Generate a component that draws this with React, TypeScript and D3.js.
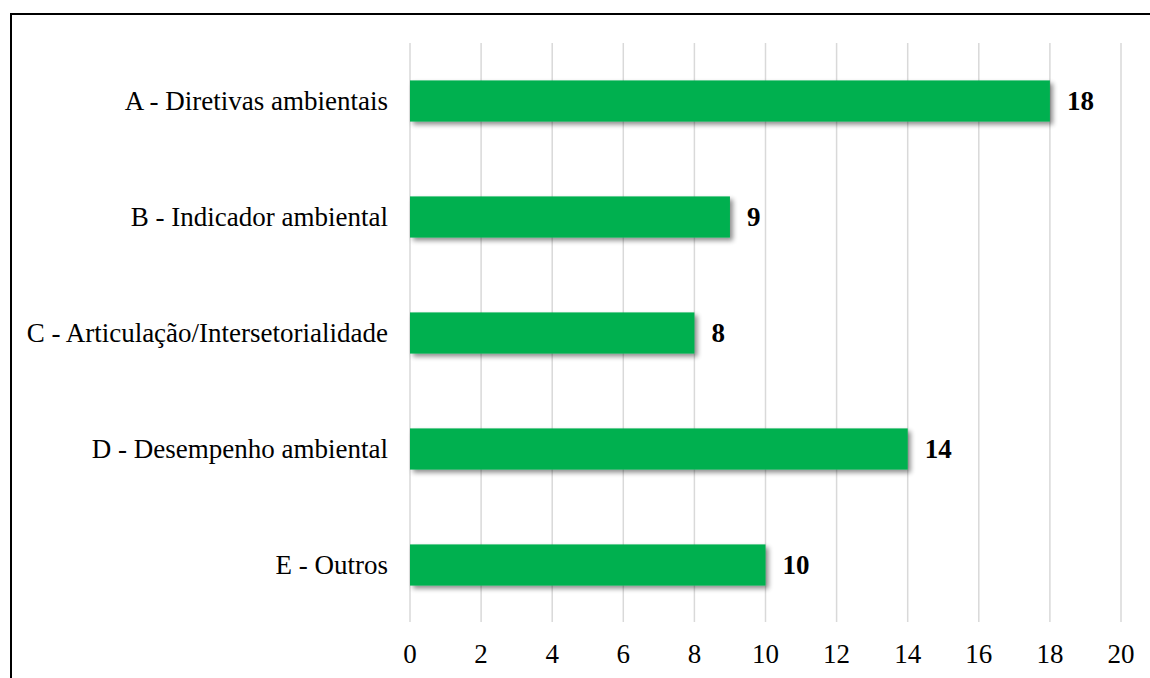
import React from "react";
import * as d3 from "d3";

const categories = [
  "A - Diretivas ambientais",
  "B - Indicador ambiental",
  "C - Articulação/Intersetorialidade",
  "D - Desempenho ambiental",
  "E - Outros",
];
const values = [18, 9, 8, 14, 10];
const xTicks = [0, 2, 4, 6, 8, 10, 12, 14, 16, 18, 20];

const W = 1150;
const H = 678;
const plot = { left: 410, right: 1121, top: 43, bottom: 623 };
const FONT = "'Times New Roman', 'Liberation Serif', serif";
const FS = 27;

export default function App() {
  const x = d3.scaleLinear().domain([0, 20]).range([plot.left, plot.right]);
  const y = d3
    .scaleBand<string>()
    .domain(categories)
    .range([plot.top, plot.bottom])
    .paddingInner(0.645)
    .paddingOuter(0.3225);

  return (
    <svg
      width={W}
      height={H}
      style={{ position: "absolute", left: 0, top: 0, background: "#fff" }}
    >
      <defs>
        <filter id="barShadow" x="-5%" y="-30%" width="115%" height="180%">
          <feGaussianBlur in="SourceAlpha" stdDeviation="2.5" />
          <feOffset dx="3" dy="3" result="off" />
          <feComponentTransfer>
            <feFuncA type="linear" slope="0.45" />
          </feComponentTransfer>
          <feMerge>
            <feMergeNode />
            <feMergeNode in="SourceGraphic" />
          </feMerge>
        </filter>
      </defs>
      <rect x={0} y={0} width={W} height={H} fill="#fff" />
      {/* outer frame */}
      <path d={`M11,${H} V14 H${W}`} fill="none" stroke="#000" strokeWidth={2} />

      {/* vertical gridlines */}
      {xTicks.map((t) => (
        <line
          key={t}
          x1={x(t)}
          x2={x(t)}
          y1={plot.top}
          y2={plot.bottom - 1}
          stroke="#d9d9d9"
          strokeWidth={1.5}
        />
      ))}

      {/* bars */}
      {categories.map((c, i) => (
        <rect
          key={c}
          x={x(0)}
          y={y(c)}
          width={x(values[i]) - x(0)}
          height={y.bandwidth()}
          fill="#00b050"
          filter="url(#barShadow)"
        />
      ))}

      {/* value labels */}
      {categories.map((c, i) => (
        <text
          key={c}
          x={x(values[i]) + 17}
          y={(y(c) as number) + y.bandwidth() / 2}
          dy="0.35em"
          fontFamily={FONT}
          fontSize={FS}
          fontWeight="bold"
          fill="#000"
        >
          {values[i]}
        </text>
      ))}

      {/* category labels */}
      {categories.map((c) => (
        <text
          key={c}
          x={388}
          y={(y(c) as number) + y.bandwidth() / 2}
          dy="0.35em"
          textAnchor="end"
          fontFamily={FONT}
          fontSize={FS}
          fill="#000"
        >
          {c}
        </text>
      ))}

      {/* x tick labels */}
      {xTicks.map((t) => (
        <text
          key={t}
          x={x(t)}
          y={654}
          dy="0.35em"
          textAnchor="middle"
          fontFamily={FONT}
          fontSize={FS}
          fill="#000"
        >
          {t}
        </text>
      ))}
    </svg>
  );
}
